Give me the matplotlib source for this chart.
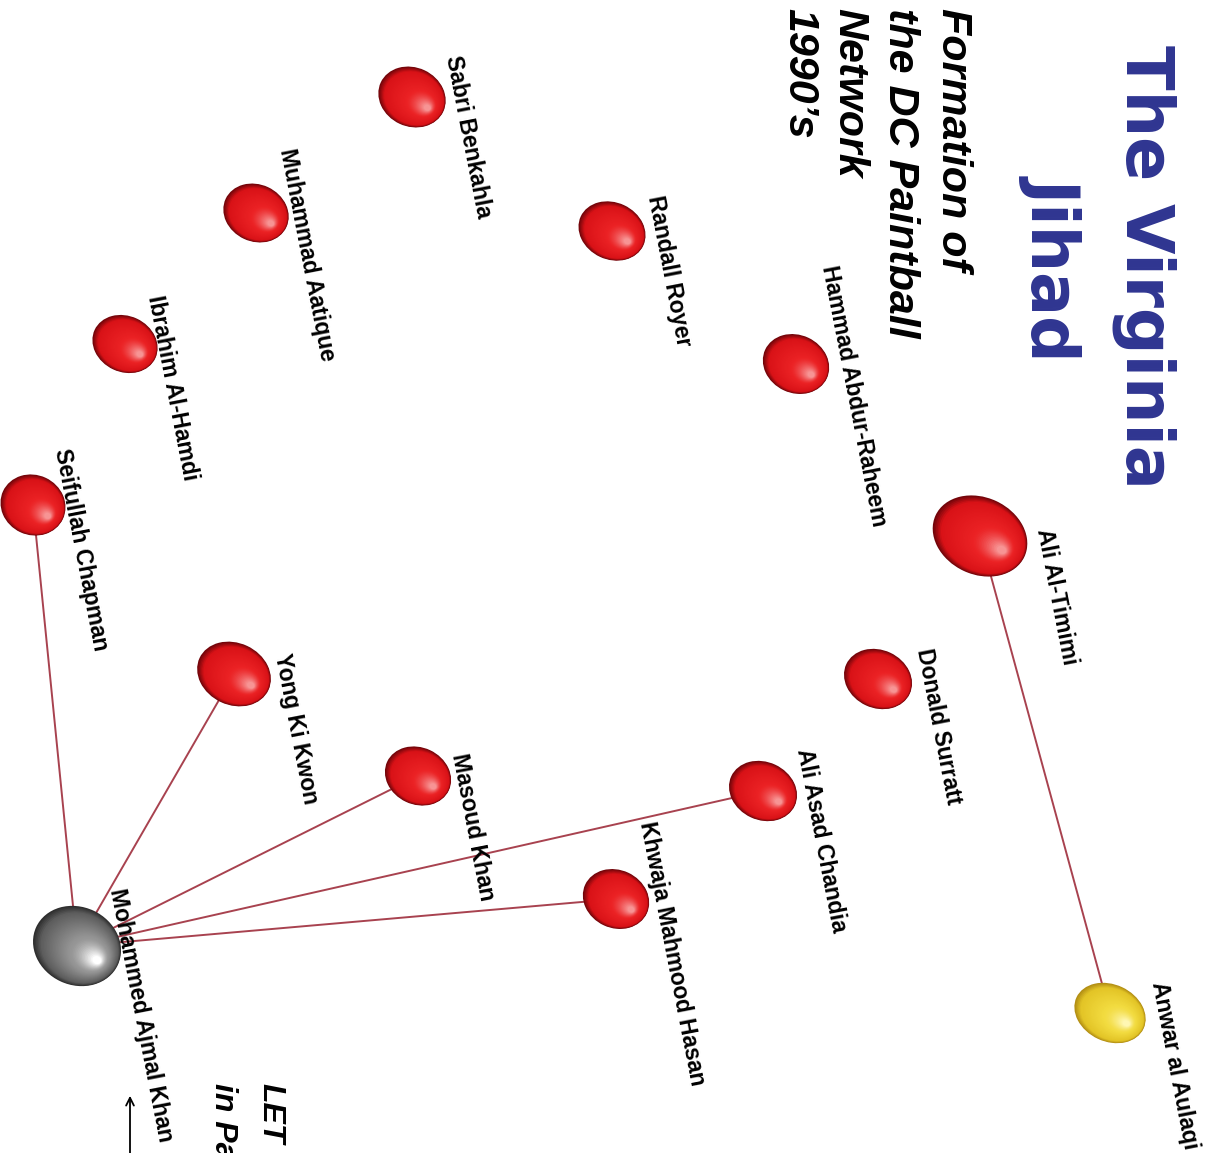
import matplotlib
matplotlib.use("Agg")
import matplotlib.pyplot as plt
from matplotlib.patches import Ellipse
import numpy as np

# ---- data (image pixel coordinates, y downward) ----
names = ["Sabri Benkahla", "Muhammad Aatique", "Ibrahim Al-Hamdi", "Randall Royer",
         "Hammad Abdur-Raheem", "Ali Al-Timimi", "Donald Surratt", "Ali Asad Chandia",
         "Khwaja Mahmood Hasan", "Masoud Khan", "Yong Ki Kwon", "Seifullah Chapman",
         "Mohammed Ajmal Khan", "Anwar al Aulaqi"]
node_x = [412, 256, 125, 612, 796, 980, 878, 763, 616, 418, 234, 33, 77, 1110]
node_y = [97, 213, 344, 231, 364, 536, 679, 791, 899, 776, 674, 505, 946, 1013]
node_w = [69, 67, 67, 69, 68, 98, 70, 70, 68, 68, 76, 66, 90, 74]
node_h = [59, 57, 56, 57, 58, 77, 58, 58, 58, 57, 62, 60, 78, 57]
node_kind = ["red"] * 12 + ["gray", "yellow"]
label_x = [446, 280, 148, 648, 822, 1037, 917, 797, 640, 452, 275, 55, 110, 1152]
label_y = [57, 150, 297, 197, 267, 530, 650, 750, 823, 755, 655, 450, 890, 983]
edges = [("Ali Al-Timimi", "Anwar al Aulaqi"),
         ("Mohammed Ajmal Khan", "Seifullah Chapman"),
         ("Mohammed Ajmal Khan", "Yong Ki Kwon"),
         ("Mohammed Ajmal Khan", "Masoud Khan"),
         ("Mohammed Ajmal Khan", "Ali Asad Chandia"),
         ("Mohammed Ajmal Khan", "Khwaja Mahmood Hasan")]
title_lines = ["The Virginia", "Jihad"]
subtitle_lines = ["Formation of", "the DC Paintball", "Network", "1990\u2019s"]
note_lines = ["LET", "in Pa"]

W, H = 1217, 1153
fig = plt.figure(figsize=(W / 100, H / 100), dpi=100)
ax = fig.add_axes([0, 0, 1, 1])
ax.set_xlim(0, W)
ax.set_ylim(H, 0)
ax.axis("off")

palettes = {
    "red": [(0.45, 0.02, 0.04), (0.85, 0.07, 0.09), (0.92, 0.13, 0.14), (0.97, 0.58, 0.58)],
    "gray": [(0.18, 0.18, 0.18), (0.36, 0.36, 0.36), (0.58, 0.58, 0.58), (1.0, 1.0, 1.0)],
    "yellow": [(0.70, 0.56, 0.08), (0.89, 0.77, 0.15), (0.95, 0.86, 0.25), (1.0, 0.97, 0.70)],
}


def mix(c1, c2, t):
    return tuple(a + (b - a) * t for a, b in zip(c1, c2))


def sphere(cx, cy, w, h, kind):
    pal = palettes[kind]
    ang = 25
    hx, hy = cx + 0.22 * w, cy + 0.18 * h
    n = 40
    for i in range(n):
        t = i / (n - 1)
        s = 1 - 0.9 * t
        px = cx + (hx - cx) * t
        py = cy + (hy - cy) * t
        if t < 0.12:
            col = mix(pal[0], pal[1], t / 0.12)
        elif t < 0.6:
            col = mix(pal[1], pal[2], (t - 0.12) / 0.48)
        else:
            col = mix(pal[2], pal[3], ((t - 0.6) / 0.4) ** 1.5)
        ax.add_patch(Ellipse((px, py), w * s, h * s, angle=ang, facecolor=col,
                             edgecolor="none", zorder=3 + t))


idx = {n: i for i, n in enumerate(names)}
for a, b in edges:
    i, j = idx[a], idx[b]
    ax.plot([node_x[i], node_x[j]], [node_y[i], node_y[j]], color="#A8424F",
            lw=1.4, zorder=2, solid_capstyle="round")

for i, n in enumerate(names):
    sphere(node_x[i], node_y[i], node_w[i], node_h[i], node_kind[i])
    ax.text(label_x[i], label_y[i], n, rotation=-79, rotation_mode="anchor",
            ha="left", va="baseline", fontsize=16.5, fontweight="heavy",
            family="Liberation Sans", color="black", zorder=10)

# title
title_base_x = [1127, 1035]
for tx, line in zip(title_base_x, title_lines):
    ax.text(tx, 267, line, rotation=-90, rotation_mode="anchor", ha="center",
            va="baseline", fontsize=47, fontweight="bold", family="DejaVu Sans",
            color="#2F3591", zorder=10)

sub_base_x = [942, 889, 838, 788]
for tx, line in zip(sub_base_x, subtitle_lines):
    ax.text(tx, 8, line, rotation=-90, rotation_mode="anchor", ha="left",
            va="baseline", fontsize=31, fontweight="bold", fontstyle="italic",
            family="Liberation Sans", color="black", zorder=10)

note_base_x = [262, 215]
for tx, line in zip(note_base_x, note_lines):
    ax.text(tx, 1083, line, rotation=-90, rotation_mode="anchor", ha="left",
            va="baseline", fontsize=23, fontweight="bold", fontstyle="italic",
            family="Liberation Sans", color="black", zorder=10)

ax.annotate("", xy=(130, 1093), xytext=(130, 1160),
            arrowprops=dict(arrowstyle="->", color="black", lw=1.3,
                            mutation_scale=14), zorder=10)

fig.savefig("out.png", dpi=100, facecolor="white")
